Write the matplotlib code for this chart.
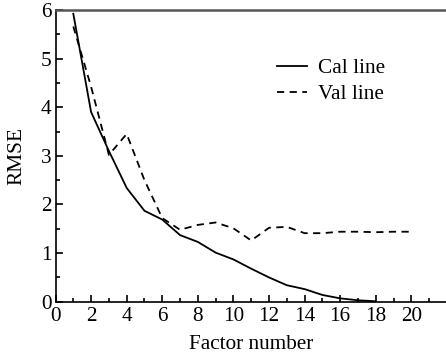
import matplotlib.pyplot as plt
from matplotlib.ticker import MultipleLocator

plt.rcParams["font.family"] = "Liberation Serif"
plt.rcParams["font.size"] = 15.3

factors = [1, 2, 3, 4, 5, 6, 7, 8, 9, 10, 11, 12, 13, 14, 15, 16, 17, 18]
cal_rmse = [5.92, 3.90, 3.10, 2.34, 1.87, 1.69, 1.37, 1.23, 1.01, 0.87, 0.68, 0.50,
            0.34, 0.26, 0.14, 0.07, 0.03, 0.01]

val_factors = [1, 2, 3, 4, 5, 6, 7, 8, 9, 10, 11, 12, 13, 14, 15, 16, 17, 18, 19, 20]
val_rmse = [5.66, 4.42, 3.02, 3.45, 2.50, 1.72, 1.48, 1.58, 1.63, 1.51, 1.26, 1.52,
            1.54, 1.41, 1.41, 1.44, 1.44, 1.43, 1.44, 1.44]

x_ticks = [0, 2, 4, 6, 8, 10, 12, 14, 16, 18, 20]

fig = plt.figure(figsize=(4.46, 3.55), dpi=100)
ax = fig.add_axes([0.1245, 0.150, 0.8775, 0.822])

ax.plot(factors, cal_rmse, color="black", lw=1.3, label="Cal line")
ax.plot(val_factors, val_rmse, color="black", lw=1.3, ls=(0, (4, 3)), label="Val line")

ax.set_xlim(0, 22)
ax.set_ylim(0, 6)
ax.set_xticks(x_ticks)
ax.xaxis.set_minor_locator(MultipleLocator(1))
ax.yaxis.set_major_locator(MultipleLocator(1))
ax.yaxis.set_minor_locator(MultipleLocator(0.5))
ax.tick_params(which="both", direction="in", width=1.2)
ax.tick_params(which="major", length=5, pad=3)
ax.tick_params(axis="x", which="major", pad=4)
ax.tick_params(which="minor", length=3)
ax.spines["right"].set_visible(False)
for s in ["left", "bottom", "top"]:
    ax.spines[s].set_linewidth(1.2)
ax.spines["top"].set_color("#555555")
ax.spines["top"].set_linewidth(1.8)

ax.set_xlabel("Factor number", labelpad=6)
ax.set_ylabel("RMSE", labelpad=10)

ax.legend(loc="upper left", bbox_to_anchor=(0.565, 0.835), frameon=False,
          handlelength=1.45, handletextpad=0.5, labelspacing=0.3, borderaxespad=0,
          borderpad=0)

fig.savefig("out.png", dpi=100)
